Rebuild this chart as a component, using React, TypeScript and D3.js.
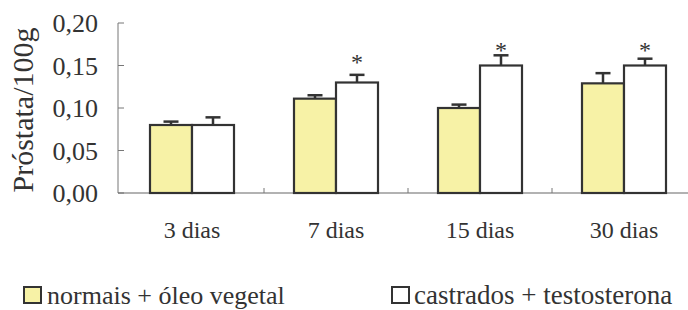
import React from "react";
import * as d3 from "d3";

const categories = ["3 dias", "7 dias", "15 dias", "30 dias"];
const normais = [0.08, 0.111, 0.1, 0.129];
const normaisErr = [0.004, 0.004, 0.004, 0.012];
const castrados = [0.08, 0.13, 0.15, 0.15];
const castradosErr = [0.009, 0.009, 0.012, 0.008];
const stars = [null, 0.166, 0.18, 0.18];
const tickValues = [0, 0.05, 0.1, 0.15, 0.2];
const tickLabels = ["0,00", "0,05", "0,10", "0,15", "0,20"];
const seriesNames = ["normais + óleo vegetal", "castrados + testosterona"];

const YELLOW = "#f7f2a6";
const DARK = "#333";
const FONT = '"Liberation Serif", "DejaVu Serif", serif';

const App = () => {
  const width = 688;
  const height = 310;
  const axisX = 118;

  const x = d3
    .scaleBand()
    .domain(categories)
    .range([120, 696])
    .paddingInner(60 / 144)
    .paddingOuter(30 / 144);

  const inner = d3
    .scaleBand()
    .domain(["a", "b"])
    .range([0, x.bandwidth()]);

  const y = d3.scaleLinear().domain([0, 0.2]).range([193, 23]);

  const series = [
    { key: "a", values: normais, errs: normaisErr, fill: YELLOW },
    { key: "b", values: castrados, errs: castradosErr, fill: "#fff" },
  ];

  const bw = inner.bandwidth();
  const capW = 15;
  const txt = { fontFamily: FONT };

  return (
    <svg
      width={width}
      height={height}
      style={{ position: "absolute", left: 0, top: 0, background: "#fff", fontFamily: FONT }}
    >
      {/* y axis */}
      <line x1={axisX} x2={axisX} y1={y(0.2)} y2={y(0)} stroke="#777" strokeWidth={1} />
      {tickValues.map((t, i) => (
        <g key={t}>
          <line x1={axisX} x2={axisX + 6} y1={y(t)} y2={y(t)} stroke="#777" strokeWidth={1} />
          <text
            x={98}
            y={y(t)}
            dy="0.35em"
            textAnchor="end"
            fontSize={26}
            fill="#333"
            style={txt}
          >
            {tickLabels[i]}
          </text>
        </g>
      ))}
      <text
        transform={`translate(33, ${(y(0) + y(0.2)) / 2 + 2}) rotate(-90)`}
        textAnchor="middle"
        fontSize={30}
        fill="#333"
        style={txt}
      >
        Próstata/100g
      </text>

      {/* x axis */}
      <line x1={axisX} x2={width} y1={y(0)} y2={y(0)} stroke="#666" strokeWidth={1.2} />
      {categories.slice(1).map((c) => (
        <line
          key={c}
          x1={x(c) - x.step() * (30 / 144)}
          x2={x(c) - x.step() * (30 / 144)}
          y1={y(0)}
          y2={y(0) - 5}
          stroke="#777"
          strokeWidth={1}
        />
      ))}
      {categories.map((c) => (
        <text
          key={c}
          x={x(c) + x.bandwidth() / 2}
          y={238}
          textAnchor="middle"
          fontSize={24}
          fill="#333"
          style={txt}
        >
          {c}
        </text>
      ))}

      {/* bars */}
      {categories.map((c, i) => (
        <g key={c} transform={`translate(${x(c)},0)`}>
          {series.map((s) => {
            const bx = inner(s.key);
            const cx = bx + bw / 2;
            const top = y(s.values[i]);
            const errTop = y(s.values[i] + s.errs[i]);
            return (
              <g key={s.key}>
                <line x1={cx} x2={cx} y1={top} y2={errTop} stroke={DARK} strokeWidth={2.5} />
                <line
                  x1={cx - capW / 2}
                  x2={cx + capW / 2}
                  y1={errTop}
                  y2={errTop}
                  stroke={DARK}
                  strokeWidth={2.5}
                />
                <rect
                  x={bx}
                  y={top}
                  width={bw}
                  height={y(0) - top}
                  fill={s.fill}
                  stroke={DARK}
                  strokeWidth={2.2}
                />
              </g>
            );
          })}
          {stars[i] != null && (
            <text
              x={inner("b") + bw / 2}
              y={y(stars[i])}
              dy="0.75em"
              textAnchor="middle"
              fontSize={24}
              fill="#333"
              style={txt}
            >
              *
            </text>
          )}
        </g>
      ))}

      {/* legend */}
      <rect x={24} y={287} width={17} height={16} fill={YELLOW} stroke={DARK} strokeWidth={2} />
      <text x={47} y={304} fontSize={26} fill="#333" style={txt}>
        {seriesNames[0]}
      </text>
      <rect x={392} y={287} width={17} height={16} fill="#fff" stroke={DARK} strokeWidth={2} />
      <text x={414} y={304} fontSize={27} fill="#333" style={txt}>
        {seriesNames[1]}
      </text>
    </svg>
  );
};

export default App;
